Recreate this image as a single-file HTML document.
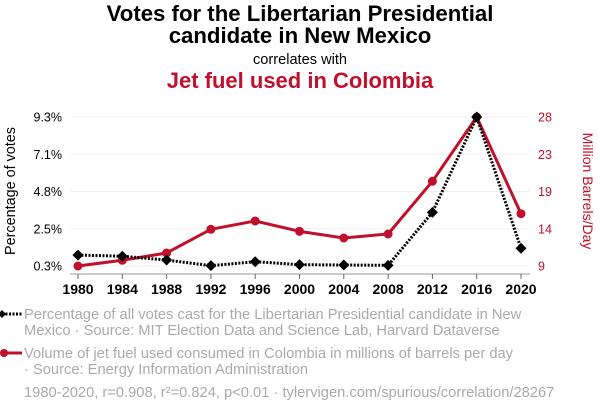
<!DOCTYPE html>
<html><head><meta charset="utf-8"><style>
body{margin:0;background:#fff;width:600px;height:414px;overflow:hidden;font-family:"Liberation Sans",sans-serif}
</style></head><body>
<svg width="600" height="414" xmlns="http://www.w3.org/2000/svg" font-family="Liberation Sans, sans-serif">
<text x="300" y="21" text-anchor="middle" font-size="22.2" font-weight="bold" fill="#000">Votes for the Libertarian Presidential</text>
<text x="300" y="43" text-anchor="middle" font-size="22.2" font-weight="bold" fill="#000">candidate in New Mexico</text>
<text x="300" y="64" text-anchor="middle" font-size="14.6" fill="#000">correlates with</text>
<text x="300" y="88" text-anchor="middle" font-size="22" font-weight="bold" fill="#c0102c">Jet fuel used in Colombia</text>
<g id="grid"></g>
<g id="axes"></g>
<g id="marks"></g>
<text transform="translate(15,191) rotate(-90)" text-anchor="middle" font-size="14.4" fill="#000">Percentage of votes</text>
<text transform="translate(583,191) rotate(90)" text-anchor="middle" font-size="14" fill="#c0102c">Million Barrels/Day</text>
<g>
<line x1="2" y1="314" x2="22" y2="314" stroke="#000" stroke-width="3" stroke-dasharray="2,1.5"/>
<path d="M2 310 L6 314 L2 318 L-2 314Z" fill="#000"/>
<text x="24" y="319" font-size="14.7" fill="#aaa">Percentage of all votes cast for the Libertarian Presidential candidate in New</text>
<text x="24" y="335" font-size="14.7" fill="#aaa">Mexico · Source: MIT Election Data and Science Lab, Harvard Dataverse</text>
</g>
<g>
<line x1="4" y1="353" x2="22" y2="353" stroke="#c0102c" stroke-width="3"/>
<circle cx="4" cy="353" r="4" fill="#c0102c"/>
<text x="24" y="358" font-size="14.7" fill="#aaa">Volume of jet fuel used consumed in Colombia in millions of barrels per day</text>
<text x="24" y="374" font-size="14.7" fill="#aaa">· Source: Energy Information Administration</text>
</g>
<text x="24" y="397" font-size="14.7" fill="#aaa">1980-2020, r=0.908, r²=0.824, p&lt;0.01 · tylervigen.com/spurious/correlation/28267</text>
</svg>
<script>
const years=[1980,1984,1988,1992,1996,2000,2004,2008,2012,2016,2020];
const votes=[0.96,0.89,0.66,0.32,0.56,0.38,0.36,0.34,3.54,9.3,1.37];
const fuel=[9.0,9.73,10.66,13.68,14.74,13.42,12.57,13.08,19.8,28.0,15.67];
const leftTicks=["0.3%","2.5%","4.8%","7.1%","9.3%"];
const rightTicks=["9","14","19","23","28"];
const NS="http://www.w3.org/2000/svg";
const x=v=>78+(v-1980)/40*443;
const yl=v=>266-(v-0.3)/9*149;
const yr=v=>266-(v-9)/19*149;
function mk(t,a,p){const e=document.createElementNS(NS,t);for(const k in a)e.setAttribute(k,a[k]);if(p)p.appendChild(e);return e;}
const grid=document.getElementById('grid'),axes=document.getElementById('axes'),marks=document.getElementById('marks');
leftTicks.forEach((t,i)=>{const y=266-i*149/4;
const g=mk('line',{x1:70,x2:530,y1:y,y2:y,stroke:'#f0f0f0','stroke-width':1},grid);


const a=mk('text',{x:62,y:y+4.5,'text-anchor':'end','font-size':12.5,fill:'#000'},axes);a.textContent=t;


const b=mk('text',{x:538,y:y+4.5,'font-size':12.5,fill:'#c0102c'},axes);b.textContent=rightTicks[i];


});
const ax=mk('line',{x1:70,x2:530,y1:274,y2:274,stroke:'#999','stroke-width':1},axes);


years.forEach(yr_=>{const xx=x(yr_);
mk('line',{x1:xx,x2:xx,y1:274,y2:279,stroke:'#666','stroke-width':1},axes);
const t=mk('text',{x:xx,y:294,'text-anchor':'middle','font-size':14,'font-weight':'bold',fill:'#000'},axes);t.textContent=yr_;


});
const rl=mk('polyline',{points:years.map((v,i)=>x(v)+','+yr(fuel[i])).join(' '),fill:'none',stroke:'#c0102c','stroke-width':3,'stroke-linejoin':'round'},marks);


const bl=mk('polyline',{points:years.map((v,i)=>x(v)+','+yl(votes[i])).join(' '),fill:'none',stroke:'#000','stroke-width':3,'stroke-dasharray':'2,1.5'},marks);


years.forEach((v,i)=>{
const c=mk('circle',{cx:x(v),cy:yr(fuel[i]),r:4.5,fill:'#c0102c'},marks);


const X=x(v),Y=yl(votes[i]);
const d=mk('path',{d:`M${X} ${Y-5.5}L${X+5.5} ${Y}L${X} ${Y+5.5}L${X-5.5} ${Y}Z`,fill:'#000'},marks);


});
</script>
</body></html>
